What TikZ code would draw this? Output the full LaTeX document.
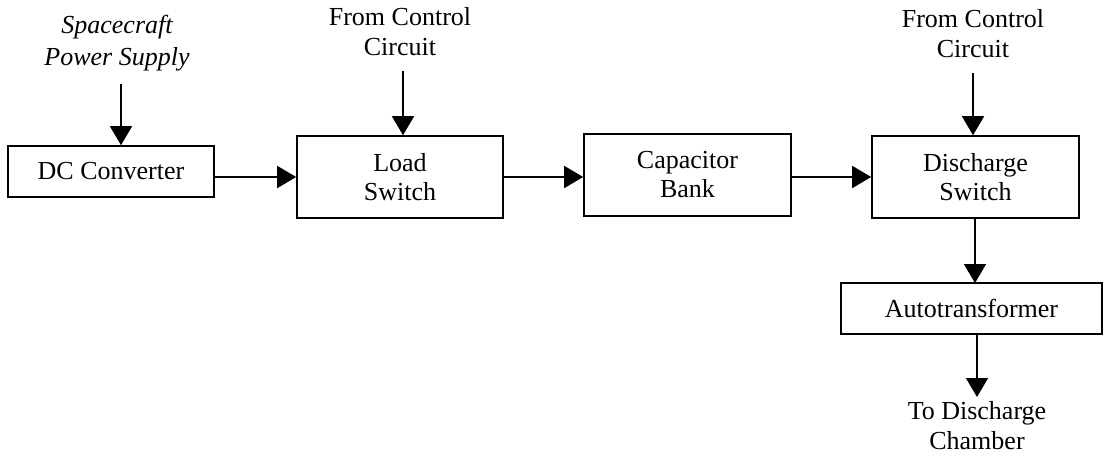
\documentclass[tikz,border=0pt]{standalone}
\usepackage{fontspec}
\setmainfont{Liberation Serif}
\usetikzlibrary{arrows.meta}
\begin{document}
\begin{tikzpicture}[x=1pt,y=-1pt,
  blk/.style={draw,line width=1.6pt,inner sep=0pt,align=center,font=\fontsize{26}{29}\selectfont},
  lbl/.style={inner sep=0pt,align=center,font=\fontsize{26}{30}\selectfont},
  arr/.style={line width=1.6pt,-{Triangle[length=19pt,width=22pt]}}]
\useasboundingbox (0,0) rectangle (1104,456);
\node[blk,minimum width=206pt,minimum height=51pt] (dc) at (111,171.5) {DC Converter};
\node[blk,minimum width=206pt,minimum height=82pt] (load) at (400,177) {Load\\Switch};
\node[blk,minimum width=207pt,minimum height=82pt] (cap) at (687.5,175) {Capacitor\\Bank};
\node[blk,minimum width=207pt,minimum height=82pt] (dis) at (975.5,177) {Discharge\\Switch};
\node[blk,minimum width=261pt,minimum height=51pt] (auto) at (971.5,308.5) {Autotransformer};
\node[lbl,font=\fontsize{26}{32}\selectfont\itshape] (sps) at (117,43) {Spacecraft\\Power Supply};
\node[lbl] (fc1) at (400,32) {From Control\\Circuit};
\node[lbl] (fc2) at (973,34) {From Control\\Circuit};
\node[lbl] (tdc) at (977,426) {To Discharge\\Chamber};
\coordinate (s1) at (121,84);
\coordinate (s2) at (403,71);
\coordinate (s3) at (973,73);
\coordinate (s4) at (977,397);
\draw[arr] (s1) -- (s1 |- dc.north);
\draw[arr] (s2) -- (s2 |- load.north);
\draw[arr] (s3) -- (s3 |- dis.north);
\draw[arr] (dc.east |- 0,177) -- (load.west |- 0,177);
\draw[arr] (load.east |- 0,177) -- (cap.west |- 0,177);
\draw[arr] (cap.east |- 0,177) -- (dis.west |- 0,177);
\draw[arr] (975,218) -- (975,283);
\draw[arr] (977,334) -- (s4);
\end{tikzpicture}
\end{document}
